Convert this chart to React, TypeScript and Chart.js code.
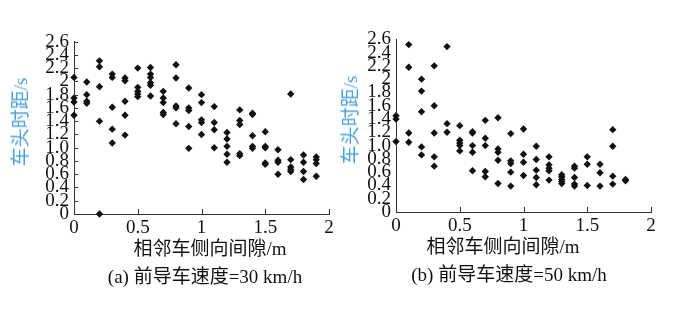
import React, { useEffect, useRef } from "react";
import { Chart, registerables } from "chart.js";

Chart.register(...registerables);

const xTickValues = [0, 0.5, 1, 1.5, 2];
const xTickLabels = ["0", "0.5", "1", "1.5", "2"];
const yTickValues = [0, 0.2, 0.4, 0.6, 0.8, 1.0, 1.2, 1.4, 1.6, 1.8, 2.0, 2.2, 2.4, 2.6];
const yTickLabels = ["0", "0.2", "0.4", "0.6", "0.8", "1.0", "1.2", "1.4", "1.6", "1.8", "2", "2.2", "2.4", "2.6"];

// (a) 前导车速度=30 km/h
const leftX = [
  0, 0, 0, 0,
  0.1, 0.1, 0.1, 0.1,
  0.2, 0.2, 0.2, 0.2, 0.2,
  0.3, 0.3, 0.3, 0.3, 0.3,
  0.4, 0.4, 0.4, 0.4, 0.4,
  0.5, 0.5, 0.5, 0.5, 0.5,
  0.6, 0.6, 0.6, 0.6, 0.6, 0.6,
  0.7, 0.7, 0.7, 0.7, 0.7,
  0.8, 0.8, 0.8, 0.8, 0.8,
  0.9, 0.9, 0.9, 0.9, 0.9,
  1.0, 1.0, 1.0, 1.0, 1.0,
  1.1, 1.1, 1.1, 1.1,
  1.2, 1.2, 1.2, 1.2, 1.2,
  1.3, 1.3, 1.3, 1.3, 1.3,
  1.4, 1.4, 1.4, 1.4, 1.4,
  1.5, 1.5, 1.5, 1.5, 1.5,
  1.6, 1.6, 1.6, 1.6,
  1.7, 1.7, 1.7, 1.7, 1.7,
  1.8, 1.8, 1.8, 1.8,
  1.9, 1.9, 1.9, 1.9,
];
const leftY = [
  2.06, 1.75, 1.69, 1.49,
  1.99, 1.8, 1.7, 1.67,
  2.31, 2.22, 1.92, 1.4, 0.0,
  2.11, 2.06, 1.61, 1.28, 1.07,
  2.05, 2.01, 1.7, 1.49, 1.19,
  2.2, 1.91, 1.85, 1.81, 1.77,
  2.21, 2.11, 2.06, 1.98, 1.94, 1.78,
  1.85, 1.75, 1.68, 1.53, 1.5,
  2.25, 2.05, 1.63, 1.6, 1.36,
  1.9, 1.6, 1.56, 1.32, 0.99,
  1.8, 1.68, 1.42, 1.38, 1.2,
  1.62, 1.38, 1.27, 1.0,
  1.23, 1.13, 1.02, 0.9, 0.78,
  1.57, 1.41, 1.35, 0.91, 0.88,
  1.52, 1.5, 1.18, 1.02, 0.99,
  1.24, 1.02, 1.0, 0.77, 0.75,
  0.97, 0.81, 0.78, 0.6,
  1.81, 0.82, 0.71, 0.67, 0.64,
  0.89, 0.78, 0.64, 0.52,
  0.86, 0.82, 0.76, 0.57,
];

// (b) 前导车速度=50 km/h
const rightX = [
  0, 0, 0,
  0.1, 0.1, 0.1, 0.1,
  0.2, 0.2, 0.2, 0.2, 0.2,
  0.3, 0.3, 0.3, 0.3, 0.3,
  0.4, 0.4, 0.4,
  0.5, 0.5, 0.5, 0.5, 0.5,
  0.6, 0.6, 0.6, 0.6, 0.6,
  0.7, 0.7, 0.7, 0.7, 0.7,
  0.8, 0.8, 0.8, 0.8, 0.8,
  0.9, 0.9, 0.9, 0.9, 0.9,
  1.0, 1.0, 1.0, 1.0,
  1.1, 1.1, 1.1, 1.1, 1.1,
  1.2, 1.2, 1.2, 1.2, 1.2,
  1.3, 1.3, 1.3, 1.3, 1.3,
  1.4, 1.4, 1.4, 1.4, 1.4,
  1.5, 1.5, 1.5,
  1.6, 1.6, 1.6,
  1.7, 1.7, 1.7, 1.7,
  1.8, 1.8,
];
const rightY = [
  1.45, 1.4, 1.06,
  2.52, 2.18, 1.19, 1.05,
  2.0, 1.82, 1.51, 0.98, 0.86,
  2.2, 1.6, 1.19, 0.83, 0.69,
  2.49, 1.33, 1.2,
  1.3, 1.08, 1.04, 1.0, 0.92,
  1.21, 1.19, 1.0, 0.9, 0.62,
  1.38, 1.11, 1.0, 0.61, 0.53,
  1.42, 0.95, 0.9, 0.78, 0.43,
  1.18, 0.77, 0.73, 0.6, 0.39,
  1.25, 0.87, 0.75, 0.55,
  0.99, 0.79, 0.63, 0.52, 0.41,
  0.83, 0.71, 0.66, 0.62, 0.48,
  0.56, 0.53, 0.49, 0.46, 0.43,
  0.69, 0.66, 0.52, 0.42, 0.39,
  0.83, 0.72, 0.4,
  0.72, 0.59, 0.39,
  1.24, 0.99, 0.54, 0.42,
  0.49, 0.47,
];

const SERIF = "'Liberation Serif', 'Times New Roman', serif";
const MIXED = "'Liberation Serif', 'Noto Sans CJK SC', serif";
const AXIS = "#333";
const INK = "#111";

type Box = { yWidth: number; top: number; right: number; xHeight: number; yTicks: boolean };

function makeChart(canvas: HTMLCanvasElement, xs: number[], ys: number[], box: Box) {
  const innerTicks = {
    id: "innerTicks",
    afterDraw(chart: any) {
      const ctx = chart.ctx;
      const { left, bottom } = chart.chartArea;
      ctx.save();
      ctx.strokeStyle = AXIS;
      ctx.lineWidth = 1;
      ctx.beginPath();
      const sx = chart.scales.x;
      xTickValues.forEach((v) => {
        const p = Math.round(sx.getPixelForValue(v)) + 0.5;
        ctx.moveTo(p, bottom);
        ctx.lineTo(p, bottom - 5);
      });
      if (box.yTicks) {
        const sy = chart.scales.y;
        yTickValues.forEach((v) => {
          const p = Math.round(sy.getPixelForValue(v)) + 0.5;
          ctx.moveTo(left, p);
          ctx.lineTo(left + 4, p);
        });
      }
      ctx.stroke();
      ctx.restore();
    },
  };
  return new Chart(canvas, {
    type: "scatter",
    data: {
      datasets: [
        {
          data: xs.map((x, i) => ({ x, y: ys[i] })),
          pointStyle: "rectRot",
          pointRadius: 3.7,
          pointHoverRadius: 3.7,
          backgroundColor: INK,
          borderColor: INK,
          borderWidth: 0,
          clip: false,
        } as any,
      ],
    },
    options: {
      animation: false,
      responsive: false,
      maintainAspectRatio: false,
      layout: { padding: { left: 0, top: box.top, right: box.right, bottom: 0 } },
      plugins: { legend: { display: false }, tooltip: { enabled: false } },
      scales: {
        x: {
          type: "linear",
          min: 0,
          max: 2,
          afterBuildTicks: (s: any) => {
            s.ticks = xTickValues.map((v) => ({ value: v }));
          },
          afterFit: (s: any) => {
            s.height = box.xHeight;
          },
          grid: { drawOnChartArea: false, drawTicks: false },
          border: { color: AXIS, width: 1 },
          ticks: {
            color: INK,
            font: { family: SERIF, size: 19, lineHeight: 1 },
            padding: 5,
            maxRotation: 0,
            autoSkip: false,
            callback: (_v: any, i: number) => xTickLabels[i],
          },
        },
        y: {
          type: "linear",
          min: 0,
          max: 2.6,
          afterBuildTicks: (s: any) => {
            s.ticks = yTickValues.map((v) => ({ value: v }));
          },
          afterFit: (s: any) => {
            s.width = box.yWidth;
          },
          grid: { drawOnChartArea: false, drawTicks: false },
          border: { color: AXIS, width: 1 },
          ticks: {
            color: INK,
            font: { family: SERIF, size: 19, lineHeight: 1 },
            padding: 5,
            autoSkip: false,
            callback: (_v: any, i: number) => yTickLabels[i],
          },
        },
      },
    } as any,
    plugins: [innerTicks],
  });
}

const textBase: React.CSSProperties = {
  position: "absolute",
  whiteSpace: "nowrap",
  fontFamily: MIXED,
  fontSize: 19,
  lineHeight: "20px",
  color: INK,
};

function Label({ x, y, text, color, rotate }: { x: number; y: number; text: string; color?: string; rotate?: boolean }) {
  return (
    <div
      style={{
        ...textBase,
        left: x,
        top: y,
        color: color || INK,
        transform: rotate ? "translate(-50%, -50%) rotate(-90deg)" : "translate(-50%, -50%)",
      }}
    >
      {text}
    </div>
  );
}

export default function App() {
  const leftRef = useRef<HTMLCanvasElement>(null);
  const rightRef = useRef<HTMLCanvasElement>(null);

  useEffect(() => {
    const a = makeChart(leftRef.current!, leftX, leftY, { yWidth: 74, top: 41.6, right: 16, xHeight: 95, yTicks: true });
    const b = makeChart(rightRef.current!, rightX, rightY, { yWidth: 51, top: 39.3, right: 30, xHeight: 97, yTicks: false });
    return () => {
      a.destroy();
      b.destroy();
    };
  }, []);

  return (
    <div style={{ position: "fixed", left: 0, top: 0, width: 681, height: 309, background: "#fff", overflow: "hidden" }}>
      <canvas ref={leftRef} width={345} height={309} style={{ position: "absolute", left: 0, top: 0, width: 345, height: 309 }} />
      <canvas ref={rightRef} width={336} height={309} style={{ position: "absolute", left: 345, top: 0, width: 336, height: 309 }} />
      <Label x={21} y={122} text="车头时距/s" color="#4aa0dc" rotate />
      <Label x={210} y={249} text="相邻车侧向间隙/m" />
      <Label x={205} y={277} text="(a) 前导车速度=30 km/h" />
      <Label x={351} y={120} text="车头时距/s" color="#4aa0dc" rotate />
      <Label x={503} y={247} text="相邻车侧向间隙/m" />
      <Label x={509} y={275} text="(b) 前导车速度=50 km/h" />
    </div>
  );
}
